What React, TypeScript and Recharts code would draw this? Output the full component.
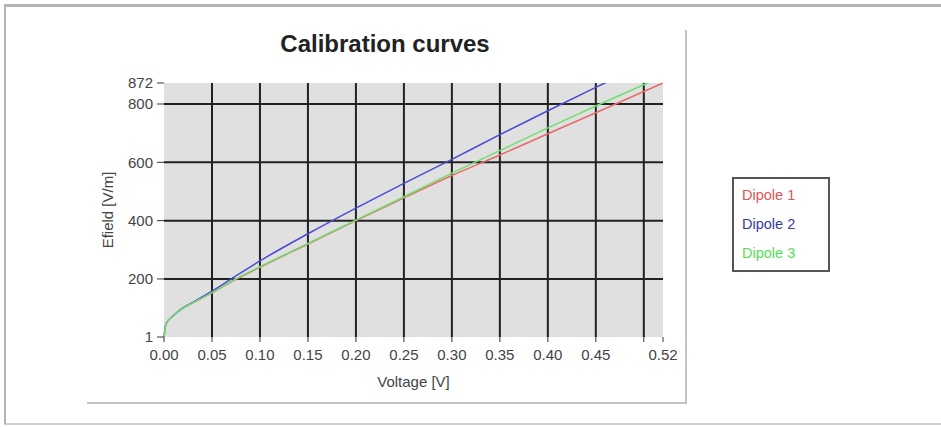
import React from "react";
import {
  LineChart,
  Line,
  XAxis,
  YAxis,
  CartesianGrid,
  ReferenceLine,
} from "recharts";

// Voltage samples (V) shared by the three dipoles
const voltage = [0, 0.002, 0.01, 0.02, 0.03, 0.05, 0.07, 0.1, 0.15, 0.2, 0.25, 0.3, 0.35, 0.4, 0.45, 0.5, 0.52];

// E-field readings (V/m)
const dipole1 = [1, 45, 75, 100, 118, 152, 190, 240, 320, 400, 478, 555, 625, 698, 770, 843, 872];
const dipole2 = [1, 45, 75, 102, 120, 158, 200, 262, 355, 443, 528, 610, 695, 777, 857, 935, 965];
const dipole3 = [1, 45, 75, 100, 118, 153, 192, 242, 322, 402, 482, 563, 640, 718, 793, 866, 895];

const xTicks = [0, 0.05, 0.1, 0.15, 0.2, 0.25, 0.3, 0.35, 0.4, 0.45, 0.5, 0.52];
const yTicks = [1, 200, 400, 600, 800, 872];
const xGrid = [0.05, 0.1, 0.15, 0.2, 0.25, 0.3, 0.35, 0.4, 0.45, 0.5];
const yGrid = [200, 400, 600, 800];

const SERIES = [
  { key: "d1", name: "Dipole 1", color: "#e86a6a", text: "#e05555" },
  { key: "d2", name: "Dipole 2", color: "#4a4ad8", text: "#3a3a9a" },
  { key: "d3", name: "Dipole 3", color: "#6fe06f", text: "#55dd55" },
];

const data = voltage.map((v, i) => ({
  v,
  d1: dipole1[i],
  d2: dipole2[i],
  d3: dipole3[i],
}));

const FONT = "'Liberation Sans', Arial, sans-serif";
const tickStyle = { fontSize: 15, fill: "#444", fontFamily: FONT };

function LegendBox() {
  return (
    <div
      style={{
        position: "absolute",
        left: 732,
        top: 177,
        width: 98,
        height: 95,
        border: "2px solid #555",
        boxSizing: "border-box",
        background: "#fff",
        padding: "2px 0 0 8px",
        fontFamily: FONT,
        fontSize: 14.5,
      }}
    >
      {SERIES.map((s) => (
        <div key={s.key} style={{ color: s.text, lineHeight: "29px" }}>
          {s.name}
        </div>
      ))}
    </div>
  );
}

export default function App() {
  return (
    <div style={{ position: "fixed", left: 0, top: 0, width: 941, height: 427, background: "#fff" }}>
      {/* outer frame */}
      <div
        style={{
          position: "absolute",
          left: 4,
          top: 4,
          width: 937,
          height: 421,
          borderTop: "3px solid #b4b4b4",
          borderLeft: "2px solid #b4b4b4",
          borderBottom: "2px solid #d0d0d0",
          boxSizing: "border-box",
        }}
      />
      {/* panel shadow */}
      <div
        style={{
          position: "absolute",
          left: 87,
          top: 30,
          width: 600,
          height: 374,
          borderRight: "2px solid #c4c4c4",
          borderBottom: "2px solid #c4c4c4",
          boxSizing: "border-box",
        }}
      />
      <div
        style={{
          position: "absolute",
          left: 0,
          top: 30,
          width: 770,
          textAlign: "center",
          fontFamily: FONT,
          fontWeight: "bold",
          fontSize: 24,
          color: "#222",
        }}
      >
        Calibration curves
      </div>
      <div style={{ position: "absolute", left: 0, top: 0 }}>
        <LineChart
          width={941}
          height={427}
          data={data}
          margin={{ top: 83, right: 278, bottom: 60, left: 104 }}
        >
          <CartesianGrid horizontal={false} vertical={false} fill="#e0e0e0" />
          {xGrid.map((x) => (
            <ReferenceLine key={`vx-${x}`} x={x} stroke="#222" strokeWidth={2} />
          ))}
          {yGrid.map((y) => (
            <ReferenceLine key={`hy-${y}`} y={y} stroke="#222" strokeWidth={2} />
          ))}
          <XAxis
            type="number"
            dataKey="v"
            domain={[0, 0.52]}
            ticks={xTicks}
            interval={0}
            tickFormatter={(t: number) => (t === 0.5 ? "" : t.toFixed(2))}
            tick={tickStyle}
            tickLine={{ stroke: "#333" }}
            tickSize={5}
            tickMargin={7}
            axisLine={false}
            height={30}
            label={{
              value: "Voltage [V]",
              position: "insideBottom",
              offset: -20,
              style: { fontSize: 15, fill: "#444", fontFamily: FONT },
            }}
          />
          <YAxis
            type="number"
            domain={[1, 872]}
            ticks={yTicks}
            interval={0}
            allowDataOverflow
            tick={tickStyle}
            tickLine={{ stroke: "#333" }}
            tickSize={7}
            tickMargin={4}
            axisLine={false}
            width={60}
            label={{
              value: "Efield [V/m]",
              angle: -90,
              position: "insideLeft",
              offset: 4,
              style: { fontSize: 15, fill: "#444", fontFamily: FONT, textAnchor: "middle" },
            }}
          />
          {SERIES.map((s) => (
            <Line
              key={s.key}
              type="monotone"
              dataKey={s.key}
              name={s.name}
              stroke={s.color}
              strokeWidth={1.5}
              dot={false}
              isAnimationActive={false}
            />
          ))}
        </LineChart>
      </div>
      <LegendBox />
    </div>
  );
}
